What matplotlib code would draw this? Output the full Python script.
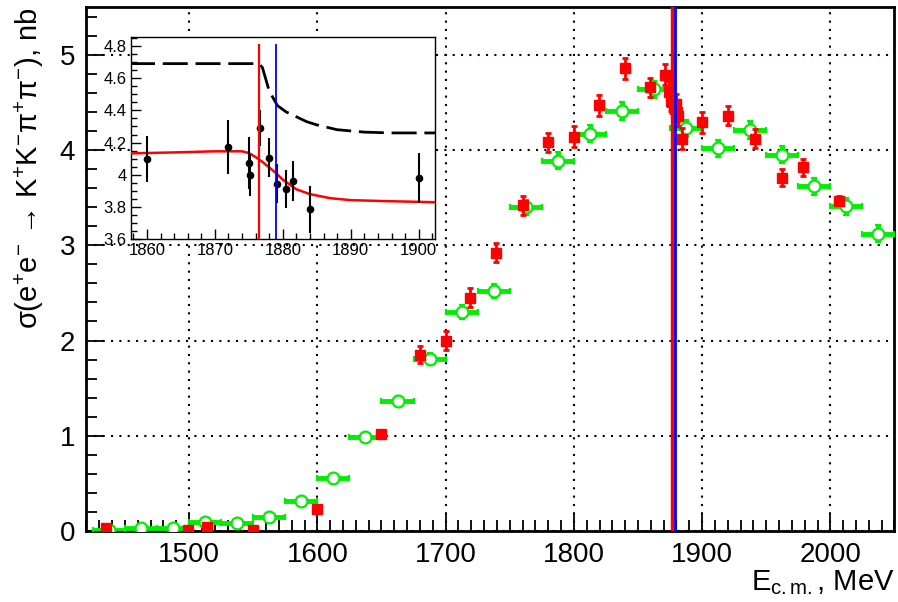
import matplotlib
matplotlib.use('Agg')
import matplotlib.pyplot as plt
from matplotlib.ticker import MultipleLocator

plt.rcParams['font.family'] = ['Liberation Sans', 'DejaVu Sans']
plt.rcParams['mathtext.fontset'] = 'custom'
plt.rcParams['mathtext.rm'] = 'Liberation Sans'
plt.rcParams['mathtext.it'] = 'Liberation Sans:italic'

# green open circles (binned), 25 MeV bins
green_e = [1437.5, 1462.5, 1487.5, 1512.5, 1537.5, 1562.5, 1587.5, 1612.5, 1637.5,
           1662.5, 1687.5, 1712.5, 1737.5, 1762.5, 1787.5, 1812.5, 1837.5, 1862.5,
           1887.5, 1912.5, 1937.5, 1962.5, 1987.5, 2012.5, 2037.5]
green_y = [0.01, 0.035, 0.03, 0.09, 0.088, 0.145, 0.31, 0.56, 0.986,
           1.37, 1.81, 2.30, 2.52, 3.40, 3.89, 4.17, 4.41, 4.64,
           4.23, 4.02, 4.21, 3.95, 3.62, 3.41, 3.12]
green_xerr = 12.5
green_yerr = [0.01, 0.01, 0.01, 0.02, 0.02, 0.02, 0.03, 0.03, 0.04,
              0.05, 0.06, 0.07, 0.07, 0.08, 0.09, 0.09, 0.09, 0.09,
              0.09, 0.09, 0.09, 0.09, 0.09, 0.09, 0.09]

# red squares
red_e = [1435, 1499, 1514, 1549.5, 1600, 1650, 1680, 1700, 1719, 1739.5, 1760,
         1779.5, 1800, 1819.3, 1839.6, 1859.4, 1871.3, 1873.8, 1875.4, 1876.7,
         1878, 1879.5, 1880.5, 1881.5, 1884, 1900, 1920, 1941.5, 1962, 1979, 2006.5]
red_y = [0.03, 0.01, 0.045, 0.01, 0.23, 1.02, 1.85, 2.0, 2.45, 2.92, 3.42,
         4.08, 4.14, 4.47, 4.86, 4.66, 4.79, 4.61, 4.52, 4.50, 4.47, 4.48, 4.40,
         4.36, 4.12, 4.29, 4.36, 4.12, 3.71, 3.82, 3.47]
red_err = [0.01, 0.01, 0.01, 0.01, 0.02, 0.04, 0.09, 0.10, 0.10, 0.10, 0.10,
           0.10, 0.11, 0.11, 0.11, 0.10, 0.11, 0.11, 0.11, 0.11,
           0.11, 0.11, 0.11, 0.11, 0.11, 0.11, 0.10, 0.10, 0.09, 0.09, 0.05]

# thresholds
e_pp = 1876.5
e_nn = 1879.0

# inset data
ins_e = [1860, 1872, 1875, 1875.2, 1876.7, 1878, 1879.2, 1880.5, 1881.5, 1884, 1900]
ins_y = [4.098, 4.173, 4.073, 4.0, 4.29, 4.106, 3.945, 3.913, 3.96, 3.787, 3.982]
ins_err = [0.14, 0.17, 0.16, 0.13, 0.11, 0.12, 0.12, 0.12, 0.125, 0.145, 0.155]

dash_e = [1857.5, 1876.5, 1877, 1878, 1879.2, 1880.5, 1882, 1883.5, 1885, 1888, 1892, 1896, 1902.5]
dash_y = [4.69, 4.69, 4.665, 4.52, 4.43, 4.39, 4.36, 4.33, 4.31, 4.28, 4.265, 4.26, 4.26]

fit_e = [1857.5, 1865, 1870, 1874, 1875, 1876, 1877, 1878, 1879, 1880, 1881, 1882,
         1884, 1887, 1890, 1895, 1902.5]
fit_y = [4.133, 4.14, 4.146, 4.146, 4.135, 4.11, 4.08, 4.046, 4.01, 3.97, 3.94, 3.91,
         3.88, 3.855, 3.843, 3.837, 3.83]

fig = plt.figure(figsize=(8.98, 6.02), dpi=100)
ax = fig.add_axes([0.0963, 0.118, 0.8998, 0.870])

ax.errorbar(green_e, green_y, xerr=green_xerr, yerr=green_yerr, fmt='o', ms=8.5,
            mfc='white', mec='#00ee00', mew=1.6, ecolor='#00ee00', elinewidth=3.5,
            capsize=2.5, capthick=3.5, zorder=3)
ax.errorbar(red_e, red_y, yerr=red_err, fmt='s', ms=6.5, color='red',
            ecolor='red', elinewidth=2, capsize=2.5, capthick=2, zorder=4)
ax.axvline(e_pp, color='red', lw=2.5, zorder=5)
ax.axvline(e_nn, color='blue', lw=2, zorder=5)

ax.set_xlim(1420, 2050)
ax.set_ylim(0, 5.5)
ax.xaxis.set_major_locator(MultipleLocator(100))
ax.xaxis.set_minor_locator(MultipleLocator(10))
ax.yaxis.set_major_locator(MultipleLocator(1))
ax.yaxis.set_minor_locator(MultipleLocator(0.2))
ax.tick_params(which='both', direction='in', top=False, right=False, labelsize=20, width=1.3)
ax.tick_params(which='major', length=12, pad=8)
ax.tick_params(which='minor', length=8)
ax.grid(True, which='major', color='black', linestyle=(0, (1, 3)), lw=1.5)
for s in ax.spines.values():
    s.set_linewidth(2)

ax.set_ylabel(r'σ(e$^{+}$e$^{-}$ → K$^{+}$K$^{-}$π$^{+}$π$^{-}$), nb', fontsize=21,
              loc='top', labelpad=10)
ax.set_xlabel(r'E$_{\mathrm{c.m.}}$, MeV', fontsize=21, loc='right', labelpad=0)

# inset
axi = fig.add_axes([0.1455, 0.6025, 0.3389, 0.3365])
axi.set_zorder(10)
axi.errorbar(ins_e, ins_y, yerr=ins_err, fmt='o', ms=4.5, color='black',
             ecolor='black', elinewidth=1.5, zorder=4)
axi.plot(dash_e, dash_y, color='black', lw=2, dashes=(9, 2.8), zorder=3)
axi.plot(fit_e, fit_y, color='red', lw=1.8, zorder=3)
axi.vlines(e_pp, 3.6, 4.81, color='red', lw=1.6, zorder=5)
axi.vlines(e_nn, 3.6, 4.81, color='blue', lw=1.3, zorder=5)
axi.set_xlim(1857.6, 1902.4)
axi.set_ylim(3.6, 4.857)
axi.xaxis.set_major_locator(MultipleLocator(10))
axi.xaxis.set_minor_locator(MultipleLocator(2))
axi.yaxis.set_major_locator(MultipleLocator(0.2))
axi.yaxis.set_minor_locator(MultipleLocator(0.05))
axi.set_yticks([3.6, 3.8, 4.0, 4.2, 4.4, 4.6, 4.8])
axi.set_yticklabels(['3.6', '3.8', '4', '4.2', '4.4', '4.6', '4.8'])
axi.tick_params(which='both', direction='in', labelsize=12, width=1)
axi.tick_params(which='major', length=7, pad=3)
axi.tick_params(which='minor', length=4)
for s in axi.spines.values():
    s.set_linewidth(1)

fig.savefig('out.png', dpi=100)
